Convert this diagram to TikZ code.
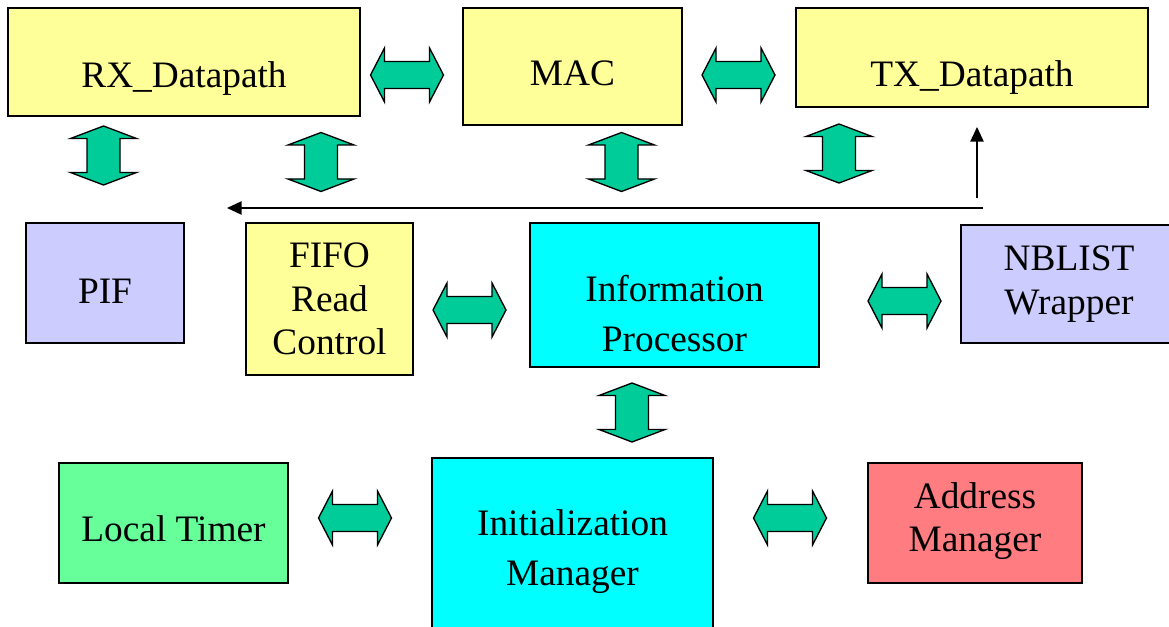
\documentclass[tikz,border=0pt]{standalone}
\usepackage{fontspec}
\setmainfont{Liberation Serif}
\usetikzlibrary{arrows.meta}

\definecolor{blkyellow}{HTML}{FFFF99}
\definecolor{blklav}{HTML}{CCCCFF}
\definecolor{blkcyan}{HTML}{00FFFF}
\definecolor{blkgreen}{HTML}{66FF99}
\definecolor{blkred}{HTML}{FF7C80}
\definecolor{linkgreen}{HTML}{00CC99}

\tikzset{
  blk/.style={draw=black, line width=1.5pt, inner sep=0pt},
  txt/.style={inner sep=0pt, align=center, font=\fontsize{28}{32.5}\selectfont},
  txtwide/.style={txt, font=\fontsize{28}{37.5}\selectfont},
  link/.style={draw=black, fill=linkgreen, line width=1pt, line join=miter},
  thin/.style={draw=black, line width=1.1pt, -{Triangle[length=11pt,width=10pt]}},
  % horizontal two-headed block arrow
  hlink/.pic={\path[link] (-36.5,0) -- (-22.5,-27) -- (-22.5,-13.5) -- (22.5,-13.5)
      -- (22.5,-27) -- (36.5,0) -- (22.5,27) -- (22.5,13.5) -- (-22.5,13.5)
      -- (-22.5,27) -- cycle;},
  % vertical two-headed block arrow
  vlink/.pic={\path[link] (0,-29.5) -- (33,-17) -- (16.5,-17) -- (16.5,17)
      -- (33,17) -- (0,29.5) -- (-33,17) -- (-16.5,17) -- (-16.5,-17)
      -- (-33,-17) -- cycle;}
}

\begin{document}
\begin{tikzpicture}[x=0.75pt, y=-0.75pt]
\useasboundingbox (0,0) rectangle (1169,627);
\clip (0,0) rectangle (1169,627);

% top row
\node[blk, fill=blkyellow, minimum width=264pt, minimum height=81pt] (rx) at (184,62) {};
\node[txt] (rxt) at (184,79) {RX\_Datapath};
\node[blk, fill=blkyellow, minimum width=164.25pt, minimum height=87.75pt] (mac) at (572.5,66.5) {};
\node[txt] (mact) at (572.5,73.5) {MAC};
\node[blk, fill=blkyellow, minimum width=264pt, minimum height=74.25pt] (tx) at (972,57.5) {};
\node[txt] (txt) at (972,77.5) {TX\_Datapath};

% middle row
\node[blk, fill=blklav, minimum width=118.5pt, minimum height=90pt] (pif) at (105,283) {};
\node[txt] (pift) at (105,291) {PIF};
\node[blk, fill=blkyellow, minimum width=125.25pt, minimum height=114pt] (fifo) at (329.5,299) {};
\node[txt] (fifot) at (329.5,299) {FIFO\\Read\\Control};
\node[blk, fill=blkcyan, minimum width=216.75pt, minimum height=108pt] (info) at (674.5,295) {};
\node[txtwide] (infot) at (674.5,314) {Information\\Processor};
\node[blk, fill=blklav, minimum width=162pt, minimum height=88.5pt] (nb) at (1069,284) {};
\node[txt] (nbt) at (1069,284) {NBLIST\\Wrapper};

% bottom row
\node[blk, fill=blkgreen, minimum width=171.75pt, minimum height=90pt] (timer) at (173.5,523) {};
\node[txt] (timert) at (173.5,529) {Local Timer};
\node[blk, fill=blkcyan, minimum width=210.75pt, minimum height=180pt] (init) at (572.5,578) {};
\node[txtwide] (initt) at (572.5,552) {Initialization\\Manager};
\node[blk, fill=blkred, minimum width=160.5pt, minimum height=90pt] (addr) at (975,523) {};
\node[txt] (addrt) at (975,521) {Address\\Manager};

% block links
\pic (rxmac) at (407,75) {hlink};
\pic (mactx) at (738.5,75) {hlink};
\pic (fifoinfo) at (469.5,310) {hlink};
\pic (infonb) at (904.5,301) {hlink};
\pic (timerinit) at (355,518) {hlink};
\pic (initaddr) at (790,518) {hlink};
\pic (rxpif) at (103.5,155.5) {vlink};
\pic (rxfifo) at (321,162) {vlink};
\pic (macinfo) at (621.5,162) {vlink};
\pic (txnb) at (839,153.5) {vlink};
\pic (infoinit) at (632,412.5) {vlink};

% feedback line
\coordinate (busR) at (983,208);
\coordinate (busL) at (227,208);
\coordinate (upS) at (977,198);
\coordinate (upE) at (977,127);
\draw[thin] (busR) -- (busL);
\draw[thin] (upS) -- (upE);
\end{tikzpicture}
\end{document}
